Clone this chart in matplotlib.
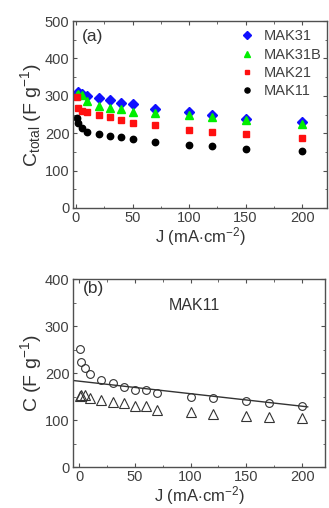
import matplotlib
matplotlib.use("Agg")
import matplotlib.pyplot as plt
from matplotlib.ticker import MultipleLocator

plt.rcParams["font.family"] = ["Liberation Sans", "DejaVu Sans"]
plt.rcParams["mathtext.fontset"] = "custom"
plt.rcParams["mathtext.rm"] = "Liberation Sans"
plt.rcParams["mathtext.it"] = "Liberation Sans:italic"

# (a) total capacitance vs current density
j_a = [0.5, 2, 5, 10, 20, 30, 40, 50, 70, 100, 120, 150, 200]
mak31 = [305, 309, 305, 300, 293, 289, 282, 277, 264, 258, 249, 237, 231]
mak31b = [302, 305, 303, 287, 273, 267, 264, 258, 255, 249, 243, 234, 225]
mak21 = [296, 268, 260, 256, 249, 243, 234, 228, 222, 209, 203, 197, 187]
mak11 = [240, 227, 213, 204, 198, 193, 189, 184, 176, 168, 166, 158, 153]

# (b) MAK11
j_b = [1, 2, 5, 10, 20, 30, 40, 50, 60, 70, 100, 120, 150, 170, 200]
c_circ = [252, 223, 210, 197, 185, 178, 171, 164, 163, 158, 150, 146, 140, 137, 130]
c_tri = [152, 154, 154, 146, 143, 138, 136, 129, 129, 122, 117, 113, 108, 106, 104]
fit_x = [-5, 205]
fit_y = [184, 128]

fig = plt.figure(figsize=(3.29, 5.08), dpi=100)
gray = "#505050"

def style(ax):
    for s in ax.spines.values():
        s.set_color(gray)
        s.set_linewidth(1.0)
    ax.tick_params(which="both", direction="in", top=True, right=True,
                   colors=gray, labelcolor="#404040", labelsize=10.5)
    ax.tick_params(which="major", length=3, pad=2.5)
    ax.tick_params(which="minor", length=1.8)
    ax.xaxis.set_major_locator(MultipleLocator(50))
    ax.xaxis.set_minor_locator(MultipleLocator(25))
    ax.yaxis.set_major_locator(MultipleLocator(100))
    ax.yaxis.set_minor_locator(MultipleLocator(50))

ax1 = fig.add_axes([0.222, 0.5906, 0.772, 0.368])
ax1.plot(j_a, mak31, "D", color="#1010ff", ms=4.6, ls="none", label="MAK31")
ax1.plot(j_a, mak31b, "^", color="#00ee00", ms=5.6, ls="none", label="MAK31B")
ax1.plot(j_a, mak21, "s", color="#ff1010", ms=4.4, ls="none", label="MAK21")
ax1.plot(j_a, mak11, "o", color="black", ms=4.6, ls="none", label="MAK11")
ax1.set_xlim(-2.6, 222)
ax1.set_ylim(0, 500)
style(ax1)
ax1.set_xlabel(r"J (mA$\cdot$cm$^{-2}$)", fontsize=12, color="#333333", labelpad=0)
ax1.set_ylabel(r"C$_{\mathrm{total}}$ (F g$^{-1}$)", fontsize=14, color="#333333", labelpad=1)
ax1.text(0.035, 0.955, "(a)", transform=ax1.transAxes, fontsize=12.5,
         color="#333333", va="top")
ax1.legend(loc="upper right", frameon=False, fontsize=10.5, handletextpad=0.6,
           borderaxespad=0.3, labelspacing=0.3, handlelength=1.2, markerscale=0.8,
           labelcolor="#404040", bbox_to_anchor=(1.02, 1.01))

ax2 = fig.add_axes([0.222, 0.0807, 0.766, 0.370])
ax2.plot(fit_x, fit_y, "-", color="#333333", lw=1.0)
ax2.plot(j_b, c_circ, "o", mfc="none", mec="#333333", mew=0.8, ms=5.6, ls="none")
ax2.plot(j_b, c_tri, "^", mfc="none", mec="#333333", mew=0.8, ms=7, ls="none")
ax2.set_xlim(-5.4, 220.6)
ax2.set_ylim(0, 400)
style(ax2)
ax2.set_xlabel(r"J (mA$\cdot$cm$^{-2}$)", fontsize=12, color="#333333", labelpad=0)
ax2.set_ylabel(r"C (F g$^{-1}$)", fontsize=14, color="#333333", labelpad=1)
ax2.text(0.04, 0.99, "(b)", transform=ax2.transAxes, fontsize=12.5,
         color="#333333", va="top")
ax2.text(0.38, 0.9, "MAK11", transform=ax2.transAxes, fontsize=11.5,
         color="#333333", va="top")

fig.savefig("out.png", dpi=100)
